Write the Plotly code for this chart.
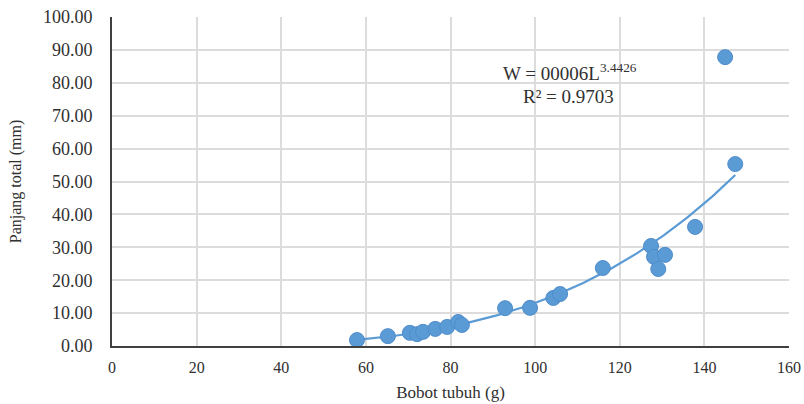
import numpy as np
import plotly.graph_objects as go

# Data
bobot = [57.9, 65.2, 70.4, 72.1, 73.5, 76.4, 79.2, 81.8, 82.7, 92.9, 98.8, 104.3, 105.9,
         116.0, 127.4, 128.1, 130.7, 129.1, 137.8, 144.9, 147.3]
panjang = [1.8, 3.0, 4.0, 3.6, 4.3, 5.2, 5.8, 7.3, 6.4, 11.5, 11.6, 14.6, 15.8,
           23.7, 30.4, 27.1, 27.7, 23.4, 36.2, 87.8, 55.3]

x_ticks = [0, 20, 40, 60, 80, 100, 120, 140, 160]
y_ticks = [0, 10, 20, 30, 40, 50, 60, 70, 80, 90, 100]

# Power trendline (least squares in log space, as in spreadsheet trendlines)
bx = np.array(bobot)
by = np.array(panjang)
b, ln_a = np.polyfit(np.log(bx), np.log(by), 1)
tx = np.linspace(bx.min(), bx.max(), 200)
ty = np.exp(ln_a) * tx ** b

blue = "#5b9bd5"
font = "Liberation Serif"
txt = "#303030"

fig = go.Figure()
fig.add_trace(go.Scatter(x=tx, y=ty, mode="lines",
                         line=dict(color=blue, width=2.2), hoverinfo="skip"))
fig.add_trace(go.Scatter(x=bobot, y=panjang, mode="markers",
                         marker=dict(color=blue, size=15,
                                     line=dict(color="#4f8ccb", width=1))))

fig.add_annotation(x=108.3, y=83.2, text="W = 00006L<sup>3.4426</sup>", showarrow=False,
                   font=dict(family=font, size=19, color=txt))
fig.add_annotation(x=107.8, y=75.7, text="R² = 0.9703", showarrow=False,
                   font=dict(family=font, size=19, color=txt))

fig.update_layout(
    width=804, height=404,
    margin=dict(l=112, r=15, t=17, b=58),
    paper_bgcolor="white", plot_bgcolor="white",
    showlegend=False,
    font=dict(family=font, size=16, color=txt),
)
fig.update_xaxes(range=[0, 160], tickvals=x_ticks, ticktext=[str(v) for v in x_ticks],
                 showgrid=True, gridcolor="#dcdcdc", gridwidth=1.5,
                 showline=True, linecolor="#404040", linewidth=2,
                 zeroline=False, ticks="", ticklen=0, automargin=False,
                 ticklabelstandoff=6, ticklabeloverflow="allow",
                 title=dict(text="Bobot tubuh (g)", font=dict(family=font, size=17, color=txt),
                            standoff=11),
                 tickfont=dict(family=font, size=16, color=txt))
fig.update_yaxes(range=[0, 100], tickvals=y_ticks, ticktext=[f"{v:.2f}" for v in y_ticks],
                 showgrid=True, gridcolor="#dcdcdc", gridwidth=1.5,
                 showline=True, linecolor="#404040", linewidth=2,
                 zeroline=False, ticks="", ticklen=0, automargin=False,
                 ticklabelstandoff=14, ticklabeloverflow="allow",
                 title=dict(text="Panjang total (mm)", font=dict(family=font, size=16, color=txt),
                            standoff=17),
                 tickfont=dict(family=font, size=18, color=txt))

fig.write_html("out.html", config={"displayModeBar": False},
               post_script="document.body.style.margin='0';")
